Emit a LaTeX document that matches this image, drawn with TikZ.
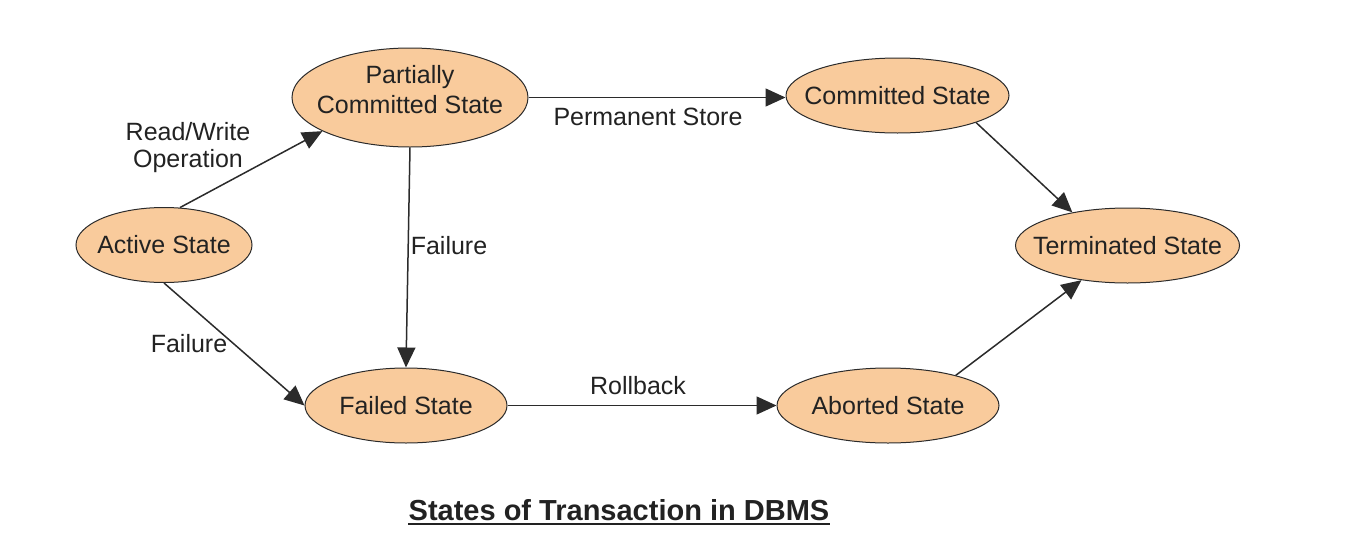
\documentclass[tikz,border=0pt]{standalone}
\usepackage{fontspec}
\setmainfont{Liberation Sans}
\usetikzlibrary{shapes.geometric,arrows.meta}
\definecolor{stfill}{HTML}{F9CB9C}
\definecolor{ink}{HTML}{222222}
\definecolor{edgec}{HTML}{2B2B2B}
\begin{document}
\begin{tikzpicture}[x=0.5pt,y=-0.5pt,
  state/.style={shape=ellipse, draw=edgec, line width=0.5pt, fill=stfill,
    inner xsep=-14pt, inner ysep=-6pt, text=ink, align=center,
    font=\fontsize{12.5}{14}\selectfont},
  lbl/.style={text=ink, align=center, font=\fontsize{12.5}{13.5}\selectfont, inner sep=0pt},
  conn/.style={draw=edgec, line width=0.75pt, -{Triangle[length=10pt,width=9pt]}}]
\useasboundingbox (0,0) rectangle (1350,552);

\node[state, minimum width=118pt, minimum height=49.5pt,
  label={[lbl, font=\fontsize{12.5}{15}\selectfont, yshift=3.75pt]center:Partially\\Committed State}] (PC) at (410,97.5) {};
\node[state, minimum width=111.5pt, minimum height=37.5pt] (Com) at (897.5,95.5) {Committed State};
\node[state, minimum width=88pt, minimum height=37.5pt] (Act) at (164,245) {Active State};
\node[state, minimum width=112pt, minimum height=37.5pt] (Ter) at (1127.5,245.5) {Terminated State};
\node[state, minimum width=101pt, minimum height=37.5pt] (Fai) at (406,405.5) {Failed State};
\node[state, minimum width=111pt, minimum height=37.5pt] (Abo) at (888,405.5) {Aborted State};

\draw[conn] (Act.67) -- (PC.201);
\draw[conn] (PC.east) -- (PC.east -| Com.west);
\draw[conn] (Com.341.6) -- (Ter.149.6);
\draw[conn] (PC.south) -- (Fai.north);
\draw[conn] (Act.south) -- (Fai.west);
\draw[conn] (Fai.east) -- (Abo.west);
\draw[conn] (Abo.24.5) -- (Ter.217.8);

\node[lbl] (l1) at (188,148) {Read/Write\\Operation};
\node[lbl] (l2) at (648,117) {Permanent Store};
\node[lbl] (l3) at (449,246) {Failure};
\node[lbl] (l4) at (189,344) {Failure};
\node[lbl] (l5) at (638,386) {Rollback};

\node[text=ink, inner sep=0pt, font=\fontsize{14.5}{16}\bfseries] (title) at (619,510) {States of Transaction in DBMS};
\draw[ink, line width=0.9pt] ([yshift=-2pt]title.base west) -- ([yshift=-2pt]title.base east);
\end{tikzpicture}
\end{document}
